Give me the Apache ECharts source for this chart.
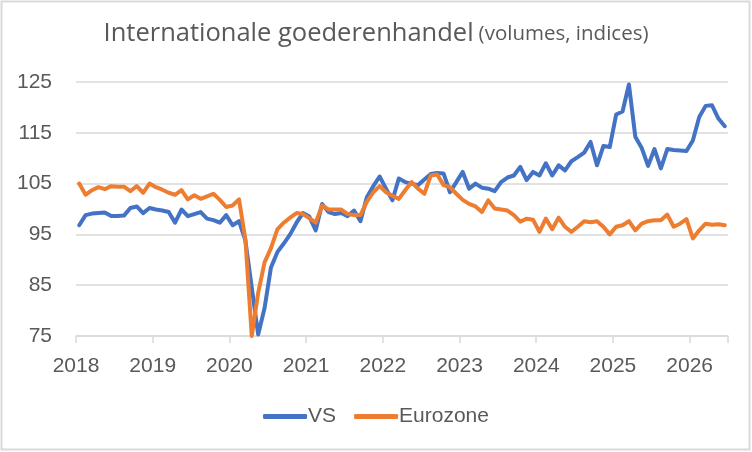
<!DOCTYPE html>
<html>
<head>
<meta charset="utf-8">
<script src="https://cdn.jsdelivr.net/npm/echarts@6/dist/echarts.min.js"></script>
<style>
html,body{margin:0;padding:0;background:#fff;}
#c{width:752px;height:452px;}
</style>
</head>
<body>
<div id="c"></div>
<script>
// Monthly data, Jan 2018 .. Jun 2026
const startYear = 2018;
const yearTicks = ['2018','2019','2020','2021','2022','2023','2024','2025','2026'];
const seriesNames = ['VS', 'Eurozone'];
const vs = [
  96.8, 98.8, 99.1, 99.2, 99.3, 98.6, 98.6, 98.7, 100.2, 100.5, 99.2, 100.2,
  99.9, 99.7, 99.4, 97.3, 99.9, 98.6, 99.0, 99.4, 98.1, 97.8, 97.3, 98.8,
  96.8, 97.6, 93.8, 84.5, 75.3, 80.5, 88.5, 91.5, 93.2, 95.0, 97.3, 99.2,
  98.5, 95.8, 101.0, 99.4, 99.0, 99.2, 98.6, 99.7, 97.6, 102.3, 104.5, 106.4,
  104.0, 101.7, 106.0, 105.3, 105.0, 104.7, 105.8, 106.9, 107.1, 107.0, 103.3, 105.3,
  107.3, 104.0, 105.0, 104.2, 104.0, 103.5, 105.3, 106.2, 106.6, 108.3, 105.7, 107.3,
  106.6, 109.0, 106.6, 108.6, 107.6, 109.4, 110.2, 111.1, 113.2, 108.6, 112.4, 112.2,
  118.6, 119.2, 124.5, 114.2, 112.0, 108.5, 111.8, 108.0, 111.8, 111.6, 111.5, 111.4,
  113.5, 118.1, 120.3, 120.4, 117.8, 116.3
];
const eurozone = [
  105.0, 102.8, 103.7, 104.3, 103.9, 104.5, 104.4, 104.4, 103.5, 104.5, 103.2, 105.0,
  104.3, 103.8, 103.2, 102.8, 103.7, 101.9, 102.7, 102.0, 102.5, 103.0, 101.8, 100.4,
  100.7, 101.9, 94.0, 75.0, 83.5, 89.5, 92.3, 96.0, 97.3, 98.3, 99.2, 99.0,
  98.2, 97.3, 100.7, 99.9, 99.9, 99.9, 99.0, 98.8, 98.8, 101.4, 103.3, 104.5,
  103.3, 102.6, 102.0, 103.7, 105.3, 104.0, 103.0, 106.6, 106.8, 104.7, 104.3, 103.0,
  101.8, 101.0, 100.5, 99.4, 101.7, 100.1, 99.9, 99.7, 98.8, 97.5, 98.1, 97.9,
  95.5, 98.1, 96.0, 98.3, 96.5, 95.5, 96.5, 97.6, 97.4, 97.6, 96.5, 95.0,
  96.5, 96.8, 97.6, 95.8, 97.1, 97.6, 97.8, 97.8, 98.9, 96.5, 97.1, 98.0,
  94.2, 95.8, 97.1, 96.9, 97.0, 96.8
];

// each monthly value sits in the middle of its month
const toPoints = arr => arr.map((v, i) => [i + 0.5, v]);

const gray = '#595959';
const gridGray = '#d9d9d9';
const lblFont = '"Liberation Sans", Arial, sans-serif';
const titleFont = '"Open Sans", sans-serif';

const chart = echarts.init(document.getElementById('c'), null, {renderer: 'canvas'});
chart.setOption({
  animation: false,
  backgroundColor: '#ffffff',
  title: {
    left: 'center',
    top: 16,
    text: '{a|Internationale goederenhandel} {b|(volumes, indices)}',
    textStyle: {
      fontWeight: 'normal',
      rich: {
        a: {fontSize: 25.5, color: gray, fontFamily: titleFont, fontWeight: 'normal'},
        b: {fontSize: 20.5, color: gray, fontFamily: titleFont, fontWeight: 'normal'}
      }
    }
  },
  legend: {
    bottom: 20,
    left: 'center',
    icon: 'roundRect',
    itemWidth: 44,
    itemHeight: 5,
    itemGap: 18,
    textStyle: {fontSize: 21, color: gray, fontFamily: lblFont, padding: [0,0,0,-4]},
    data: seriesNames
  },
  grid: {left: 76, right: 24, top: 82, bottom: 116},
  xAxis: {
    type: 'value',
    min: 0,
    max: 102,
    interval: 12,
    axisLine: {show: true, lineStyle: {color: gridGray, width: 1.5}},
    axisTick: {show: true, length: 7, lineStyle: {color: gridGray, width: 1.5}},
    splitLine: {show: false},
    axisLabel: {
      margin: 20,
      fontSize: 21,
      color: gray,
      fontFamily: lblFont,
      formatter: v => (v % 12 === 0 ? yearTicks[v / 12] : '')
    }
  },
  yAxis: {
    type: 'value',
    min: 75,
    max: 125,
    interval: 10,
    axisLine: {show: false},
    axisTick: {show: false},
    splitLine: {lineStyle: {color: gridGray, width: 1.5}},
    axisLabel: {margin: 24, fontSize: 21, color: gray, fontFamily: lblFont}
  },
  series: [
    {
      name: seriesNames[0], type: 'line', data: toPoints(vs), showSymbol: false,
      color: '#4472C4',
      lineStyle: {width: 4, color: '#4472C4', cap: 'round', join: 'round'}
    },
    {
      name: seriesNames[1], type: 'line', data: toPoints(eurozone), showSymbol: false,
      color: '#ED7D31',
      lineStyle: {width: 4, color: '#ED7D31', cap: 'round', join: 'round'}
    }
  ],
  graphic: [{
    type: 'rect', silent: true, z: 100,
    shape: {x: 1.5, y: 1.5, width: 748, height: 448},
    style: {fill: 'none', stroke: gridGray, lineWidth: 2}
  }]
});
</script>
</body>
</html>
